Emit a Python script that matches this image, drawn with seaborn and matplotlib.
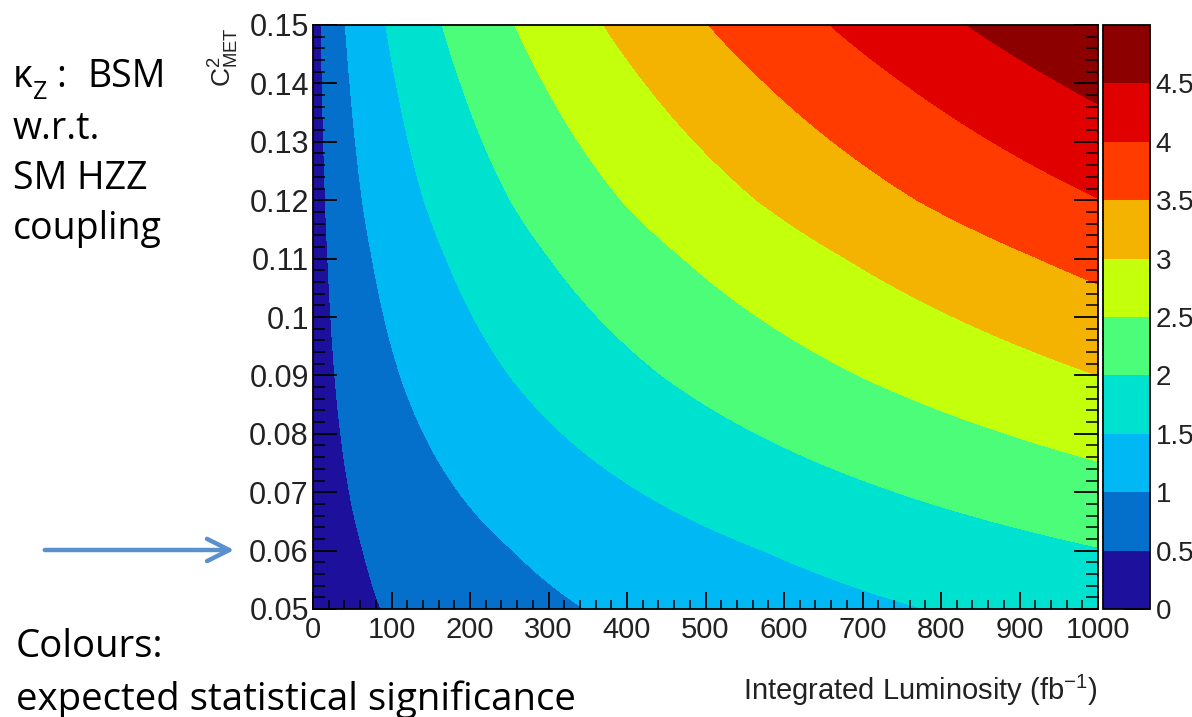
import numpy as np
import matplotlib
matplotlib.use("Agg")
import matplotlib.pyplot as plt
from matplotlib.patches import FancyArrowPatch
from matplotlib.ticker import MultipleLocator
import seaborn as sns

# ---------------- data ----------------
# C^2_MET rows and the expected significance read at the right edge (1000 fb^-1)
cmet2_values = [0.05, 0.06, 0.07, 0.08, 0.09, 0.10, 0.11, 0.12, 0.13, 0.14, 0.15]
signif_at_1000fb = [1.70, 1.98, 2.32, 2.66, 3.00, 3.32, 3.64, 3.99, 4.30, 4.61, 4.93]
lumi_reference = 1000.0          # fb^-1, significance grows as sqrt(luminosity)
lumi_range = [0.0, 1000.0]

levels = [0.0, 0.5, 1.0, 1.5, 2.0, 2.5, 3.0, 3.5, 4.0, 4.5, 5.0]
level_colors = ["#1c109d", "#0570cc", "#00b9f4", "#00e2d0", "#4cfd79",
                "#c4ff0c", "#f4b300", "#ff3b00", "#e00000", "#8c0000"]

x_ticks = [0, 100, 200, 300, 400, 500, 600, 700, 800, 900, 1000]
x_tick_labels = ["0", "100", "200", "300", "400", "500", "600", "700", "800", "900", "1000"]
y_ticks = [0.05, 0.06, 0.07, 0.08, 0.09, 0.10, 0.11, 0.12, 0.13, 0.14, 0.15]
y_tick_labels = ["0.05", "0.06", "0.07", "0.08", "0.09", "0.1", "0.11", "0.12", "0.13", "0.14", "0.15"]
cbar_ticks = [0.0, 0.5, 1.0, 1.5, 2.0, 2.5, 3.0, 3.5, 4.0, 4.5]
cbar_tick_labels = ["0", "0.5", "1", "1.5", "2", "2.5", "3", "3.5", "4", "4.5"]

x_title = "Integrated Luminosity (fb$^{-1}$)"
y_title = r"$C^{2}_{MET}$"
note_top = ["w.r.t.", "SM HZZ", "coupling"]
note_bottom = ["Colours:", "expected statistical significance"]

# ---------------- style ----------------
sns.set_style("ticks")
plt.rcParams["font.family"] = ["Liberation Sans", "DejaVu Sans"]
plt.rcParams["mathtext.default"] = "regular"

W, H = 1192, 717
fig = plt.figure(figsize=(W / 100, H / 100), dpi=100)


def fx(px):
    return px / W


def fy(py):
    return 1 - py / H


L0, R0, T0, B0 = 313, 1098, 25, 609
ax = fig.add_axes([fx(L0), fy(B0), fx(R0) - fx(L0), fy(T0) - fy(B0)])
cax = fig.add_axes([fx(1103), fy(B0), fx(1150) - fx(1103), fy(T0) - fy(B0)])

lumi = np.linspace(lumi_range[0], lumi_range[1], 1201)
cvals = np.array(cmet2_values)
Z = np.array(signif_at_1000fb)[:, None] * np.sqrt(lumi[None, :] / lumi_reference)

palette = sns.color_palette(level_colors)
cs = ax.contourf(lumi, cvals, Z, levels=levels, colors=palette, antialiased=False)

ax.set_xlim(0, 1000)
ax.set_ylim(0.05, 0.15)
ax.set_axisbelow(False)
ax.set_xticks(x_ticks)
ax.set_xticklabels(x_tick_labels)
ax.set_yticks(y_ticks)
ax.set_yticklabels(y_tick_labels)
ax.xaxis.set_minor_locator(MultipleLocator(20))
ax.yaxis.set_minor_locator(MultipleLocator(0.002))
lab_col = "#222222"
ax.tick_params(axis="x", which="major", direction="in", length=12.5, width=1.3,
               top=False, bottom=True, labelsize=21, pad=5, labelcolor=lab_col, color="black")
ax.tick_params(axis="x", which="minor", direction="in", length=6.5, width=1.1,
               top=False, bottom=True, color="black")
ax.tick_params(axis="y", which="major", direction="in", length=17, width=1.3,
               left=True, right=True, labelsize=22, pad=3, labelcolor=lab_col, color="black")
ax.tick_params(axis="y", which="minor", direction="in", length=8.5, width=1.1,
               left=True, right=True, color="black")
for s in ax.spines.values():
    s.set_color("black")
    s.set_linewidth(1.3)
ax.set_xlabel("")
ax.set_ylabel("")

cb = fig.colorbar(cs, cax=cax, ticks=cbar_ticks)
cb.set_ticklabels(cbar_tick_labels)
cb.outline.set_edgecolor("black")
cb.outline.set_linewidth(1.3)
cax.tick_params(axis="y", which="both", direction="in", length=19, width=1.3,
                right=True, left=False, labelsize=20, pad=4, labelcolor=lab_col, color="black")
cax.minorticks_off()

fig.text(fx(R0), fy(690), x_title, ha="right", va="center", fontsize=21, color=lab_col)
fig.text(fx(224), fy(27), y_title, rotation=90, ha="center", va="top", fontsize=19, color=lab_col)

# left-hand annotations
nf = "Open Sans"
fs = 27
fig.text(fx(13), fy(87), "κ", fontsize=fs, family=[nf, "DejaVu Sans"], va="baseline", color="black")
fig.text(fx(33), fy(99), "Z", fontsize=18, family=[nf], va="baseline", color="black")
fig.text(fx(56), fy(87), ":", fontsize=fs, family=[nf], va="baseline", color="black")
fig.text(fx(87), fy(87), "BSM", fontsize=fs, family=[nf], va="baseline", color="black")
for i, line in enumerate(note_top):
    fig.text(fx(13), fy(139 + 50 * i), line, fontsize=fs, family=[nf], va="baseline", color="black")
for i, line in enumerate(note_bottom):
    fig.text(fx(16), fy(657 + 53 * i), line, fontsize=27.6, family=[nf], va="baseline", color="black")

arrow = FancyArrowPatch((fx(42), fy(550)), (fx(237), fy(550)), transform=fig.transFigure,
                        arrowstyle="->,head_length=0.8,head_width=0.4", mutation_scale=20,
                        lw=3.2, color="#5a91cd")
fig.add_artist(arrow)

fig.savefig("out.png", dpi=100)
